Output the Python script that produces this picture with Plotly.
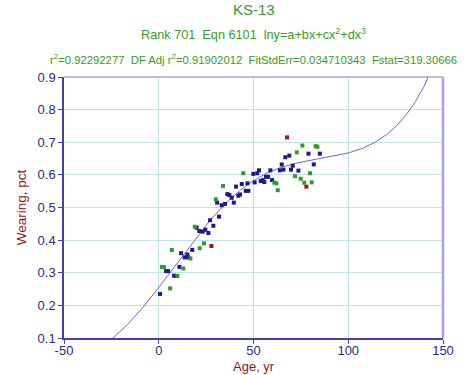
import numpy as np
import plotly.graph_objects as go

# ---- data ----
navy_x = [0.7, 3.9, 4.9, 8.1, 9.1, 10.9, 11.8, 13.7, 15.1, 15.5, 17.7, 20.0, 21.4, 23.2, 24.6,
          26.2, 27.1, 28.8, 30.8, 31.8, 33.2, 35.0, 36.2, 37.3, 38.5, 39.6, 40.8, 42.0, 42.9,
          43.8, 45.9, 46.8, 47.3, 49.9, 50.6, 52.0, 52.9, 53.8, 54.9, 55.7, 56.6, 57.7, 58.9,
          59.8, 63.9, 64.9, 65.8, 66.8, 68.9, 69.8, 70.7, 73.7, 79.0, 81.8, 85.0]
navy_y = [0.235, 0.305, 0.305, 0.291, 0.290, 0.318, 0.360, 0.347, 0.356, 0.347, 0.370, 0.438,
          0.428, 0.426, 0.432, 0.422, 0.461, 0.444, 0.515, 0.472, 0.507, 0.511, 0.541, 0.538,
          0.530, 0.515, 0.564, 0.536, 0.540, 0.572, 0.551, 0.574, 0.551, 0.603, 0.577, 0.605,
          0.614, 0.581, 0.584, 0.578, 0.594, 0.594, 0.614, 0.584, 0.614, 0.632, 0.616, 0.654,
          0.659, 0.616, 0.628, 0.613, 0.665, 0.632, 0.665]

green_x = [1.7, 2.8, 6.0, 6.9, 9.8, 13.0, 16.7, 19.0, 21.6, 23.9, 30.1, 33.9, 44.6, 61.0, 62.1,
           62.8, 71.9, 72.8, 74.9, 75.8, 76.8, 79.8, 80.7, 82.8, 83.7]
green_y = [0.318, 0.317, 0.252, 0.370, 0.290, 0.313, 0.344, 0.441, 0.375, 0.390, 0.525, 0.566,
           0.605, 0.576, 0.574, 0.553, 0.596, 0.669, 0.588, 0.690, 0.576, 0.605, 0.577, 0.688,
           0.686]

red_x = [27.8, 67.7, 77.9]
red_y = [0.382, 0.715, 0.564]

curve_x_read = [-23.5, 0.7, 18.5, 36.7, 45.6, 63.1, 85.0, 100.0, 120.3, 132.6, 142.8]
curve_y_read = [0.104, 0.255, 0.403, 0.518, 0.574, 0.615, 0.651, 0.666, 0.719, 0.804, 0.906]

x_ticks = [-50, 0, 50, 100, 150]
y_ticks = [0.1, 0.2, 0.3, 0.4, 0.5, 0.6, 0.7, 0.8, 0.9]

title_text = "KS-13"
sub1 = "Rank 701\u00a0\u00a0Eqn 6101\u00a0\u00a0lny=a+bx+cx<sup>2</sup>+dx<sup>3</sup>"
sub2 = ("r<sup>2</sup>=0.92292277\u00a0\u00a0DF Adj r<sup>2</sup>=0.91902012\u00a0\u00a0"
        "FitStdErr=0.034710343\u00a0\u00a0Fstat=319.30666")
x_title = "Age, yr"
y_title = "Wearing, pct"

# cubic coefficients of ln(y) from the curve readings
coef = np.polyfit(curve_x_read, np.log(curve_y_read), 3)
cx = np.linspace(-30, 150, 400)
cy = np.exp(np.polyval(coef, cx))

FONT = "Liberation Sans, Arial, sans-serif"
GREEN_T = "#3a9a2a"
AX_COL = "#4a3fa8"
TICK_COL = "#2a2a80"
GRID = "#c2e4e4"
TITLE_RED = "#8b1a1a"

fig = go.Figure()
fig.add_trace(go.Scatter(x=cx, y=cy, mode="lines",
                         line=dict(color="#6f64c8", width=1), hoverinfo="skip"))
fig.add_trace(go.Scatter(x=navy_x, y=navy_y, mode="markers",
                         marker=dict(symbol="square", size=4, color="#1c1a86")))
fig.add_trace(go.Scatter(x=green_x, y=green_y, mode="markers",
                         marker=dict(symbol="square", size=4, color="#2f9a2f")))
fig.add_trace(go.Scatter(x=red_x, y=red_y, mode="markers",
                         marker=dict(symbol="square", size=4, color="#a01818")))

axis_common = dict(showline=True, linecolor=AX_COL, linewidth=1.5, ticks="outside",
                   ticklen=4, tickcolor=AX_COL, showgrid=True, gridcolor=GRID, gridwidth=1,
                   zeroline=False, automargin=False,
                   tickfont=dict(family=FONT, size=13, color=TICK_COL))

fig.update_xaxes(range=[-50, 150], tickvals=x_ticks, ticktext=[str(v) for v in x_ticks],
                 ticklabelstandoff=-4, **axis_common)
fig.update_yaxes(range=[0.1, 0.9], tickvals=y_ticks, ticktext=[f"{v:.1f}" for v in y_ticks],
                 title=dict(text=y_title, font=dict(family=FONT, size=13.5, color=TITLE_RED),
                            standoff=8),
                 **axis_common)

ph = 338 - 77


def py(pix):
    return 1 + (77 - pix) / ph


fig.update_layout(
    width=470, height=375,
    margin=dict(l=64, r=27, t=77, b=37),
    paper_bgcolor="white", plot_bgcolor="white",
    showlegend=False,
    font=dict(family=FONT),
    annotations=[
        dict(text=title_text, x=0.5, xref="paper", y=py(9), yref="paper", showarrow=False,
             xanchor="center", yanchor="middle", font=dict(family=FONT, size=15, color=GREEN_T)),
        dict(text=sub1, x=0.5, xref="paper", y=py(34), yref="paper", showarrow=False,
             xanchor="center", yanchor="middle", font=dict(family=FONT, size=12.7, color=GREEN_T)),
        dict(text=sub2, x=0.5, xref="paper", y=py(59), yref="paper", showarrow=False,
             xanchor="center", yanchor="middle", font=dict(family=FONT, size=11.3, color=GREEN_T)),
        dict(text=x_title, x=0.5, xref="paper", y=py(366), yref="paper", showarrow=False,
             xanchor="center", yanchor="middle", font=dict(family=FONT, size=13, color=TITLE_RED)),
    ],
    shapes=[
        dict(type="line", xref="paper", yref="paper", x0=0, x1=1, y0=1, y1=1,
             line=dict(color="#7f74cc", width=1)),
        dict(type="line", xref="paper", yref="paper", x0=1, x1=1, y0=0, y1=1,
             line=dict(color="#aaa2e0", width=2.5)),
    ],
)

# remove the default 8px page margin so the figure fills the 470x375 window
fig.write_html("out.html", config={"displayModeBar": False},
               post_script="document.body.style.margin='0';document.body.style.overflow='hidden';")
